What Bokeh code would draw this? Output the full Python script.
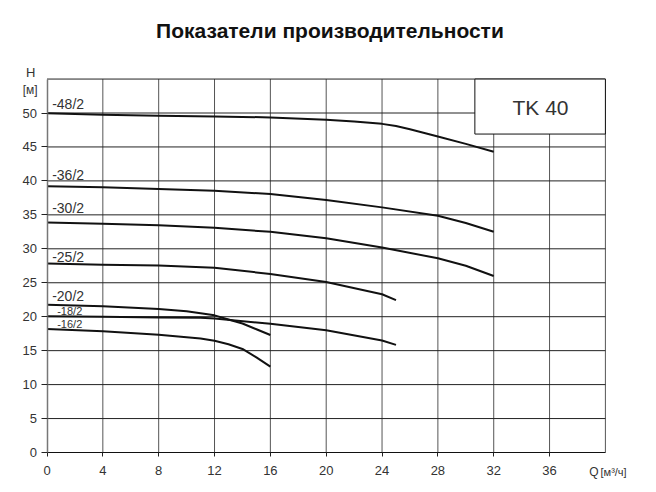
from bokeh.plotting import figure
from bokeh.models import Range1d, FixedTicker, Label, LinearAxis
from bokeh.embed import file_html
from bokeh.resources import INLINE

# ---- data ----
q_48 = [0, 4, 8, 12, 16, 20, 22, 24, 25, 26, 28, 30, 32]
h_48 = [49.95, 49.75, 49.6, 49.5, 49.35, 49.0, 48.75, 48.4, 48.08, 47.6, 46.55, 45.45, 44.3]

q_36 = [0, 4, 8, 12, 16, 20, 24, 28, 30, 32]
h_36 = [39.2, 39.05, 38.8, 38.55, 38.07, 37.2, 36.1, 34.87, 33.8, 32.5]

q_30 = [0, 4, 8, 12, 16, 20, 24, 28, 30, 32]
h_30 = [33.87, 33.7, 33.45, 33.1, 32.5, 31.55, 30.2, 28.6, 27.5, 26.0]

q_25 = [0, 4, 8, 12, 16, 20, 24, 25]
h_25 = [27.85, 27.65, 27.55, 27.2, 26.3, 25.1, 23.3, 22.45]

q_20 = [0, 4, 8, 10, 11, 12, 13, 14, 15, 16]
h_20 = [21.75, 21.55, 21.15, 20.8, 20.5, 20.2, 19.6, 19.0, 18.15, 17.3]

q_18 = [0, 4, 8, 11, 12, 16, 20, 24, 25]
h_18 = [20.05, 19.98, 19.9, 19.83, 19.75, 18.95, 18.0, 16.5, 15.85]

q_16 = [0, 4, 8, 11, 12, 13, 14, 15, 16]
h_16 = [18.2, 17.85, 17.35, 16.8, 16.45, 15.95, 15.25, 14.0, 12.65]

series_names = ["-48/2", "-36/2", "-30/2", "-25/2", "-20/2", "-18/2", "-16/2"]
x_ticks = [0, 4, 8, 12, 16, 20, 24, 28, 32, 36]
y_ticks = [0, 5, 10, 15, 20, 25, 30, 35, 40, 45, 50]
x_grid = [4, 8, 12, 16, 20, 24, 28, 32, 36, 40]
y_grid = [5, 10, 15, 20, 25, 30, 35, 40, 45, 50, 55]
Q_MAX = 40
H_MAX = 55

title_text = "Показатели производительности"
model_text = "TK 40"

FONT = "Liberation Sans"
TXT = "#333333"

W, H = 648, 484
# data ranges chosen so the chart area (0..40, 0..55) sits where the reference has it
x0_px, x_scale = 46.5, 13.96
y0_px, y_scale = 452.0, 6.79

p = figure(width=W, height=H, output_backend="svg", toolbar_location=None,
           x_range=Range1d(-x0_px / x_scale, (W - x0_px) / x_scale),
           y_range=Range1d(-(H - y0_px) / y_scale, y0_px / y_scale),
           x_axis_location=None, y_axis_location=None,
           min_border=0, min_border_left=0, min_border_right=0,
           min_border_top=0, min_border_bottom=0,
           background_fill_color="white", border_fill_color="white")
p.outline_line_color = None
p.grid.visible = False

# grid lines limited to the chart area
p.segment(x0=x_grid, y0=[0] * len(x_grid), x1=x_grid, y1=[H_MAX] * len(x_grid),
          line_color="#555555", line_width=1)
p.segment(x0=[0] * len(y_grid), y0=y_grid, x1=[Q_MAX] * len(y_grid), y1=y_grid,
          line_color="#222222", line_width=1)

# axes at data 0
xax = LinearAxis(ticker=FixedTicker(ticks=x_ticks), bounds=(0, Q_MAX), fixed_location=0)
yax = LinearAxis(ticker=FixedTicker(ticks=y_ticks), bounds=(0, H_MAX), fixed_location=0)
for ax in (xax, yax):
    ax.major_tick_in = 0
    ax.minor_tick_line_color = None
    ax.major_label_text_font = FONT
    ax.major_label_text_font_size = "13px"
    ax.major_label_text_color = TXT
    ax.major_tick_line_color = "#222222"
xax.major_tick_out = 4
xax.axis_line_color = "#111111"
xax.major_label_standoff = 9
yax.major_tick_out = 6
yax.axis_line_color = "#777777"
yax.axis_line_width = 1.5
yax.major_label_standoff = 4
p.add_layout(xax, "below")
p.add_layout(yax, "left")

# TK 40 box
p.quad(left=[30.65], right=[Q_MAX], bottom=[46.9], top=[H_MAX], fill_color="white",
       line_color="#111111", line_width=1)
p.add_layout(Label(x=35.35, y=50.76, text=model_text, text_align="center", text_baseline="middle",
                   text_font=FONT, text_font_size="21px", text_color=TXT))

# curves
for qs, hs in [(q_48, h_48), (q_36, h_36), (q_30, h_30), (q_25, h_25),
               (q_20, h_20), (q_18, h_18), (q_16, h_16)]:
    p.line(qs, hs, line_color="#111111", line_width=2, line_join="round")

# curve labels
label_pos = [(0.37, 51.3, "14px"), (0.37, 40.87, "14px"), (0.37, 35.96, "14px"),
             (0.37, 28.84, "14px"), (0.37, 23.0, "14px"), (0.73, 20.77, "11px"),
             (0.73, 18.9, "11px")]
for name, (lx, ly, fs) in zip(series_names, label_pos):
    p.add_layout(Label(x=lx, y=ly, text=name, text_align="left", text_baseline="middle",
                       text_font=FONT, text_font_size=fs, text_color=TXT))

# title and axis titles
p.add_layout(Label(x=20.27, y=62.2, text=title_text, text_align="center",
                   text_baseline="middle", text_font=FONT, text_font_size="21px",
                   text_font_style="bold", text_color="#111111"))
p.add_layout(Label(x=-1.17, y=56.0, text="H", text_align="center", text_baseline="middle",
                   text_font=FONT, text_font_size="13px", text_color=TXT))
p.add_layout(Label(x=-1.2, y=53.45, text="[м]", text_align="center", text_baseline="middle",
                   text_font=FONT, text_font_size="12px", text_color=TXT))
p.add_layout(Label(x=38.84, y=-2.87, text="Q", text_align="left", text_baseline="middle",
                   text_font=FONT, text_font_size="12px", text_color=TXT))
p.add_layout(Label(x=39.65, y=-2.87, text="[м³/ч]", text_align="left", text_baseline="middle",
                   text_font=FONT, text_font_size="11px", text_color=TXT))

open("out.html", "w").write(file_html(p, INLINE))
